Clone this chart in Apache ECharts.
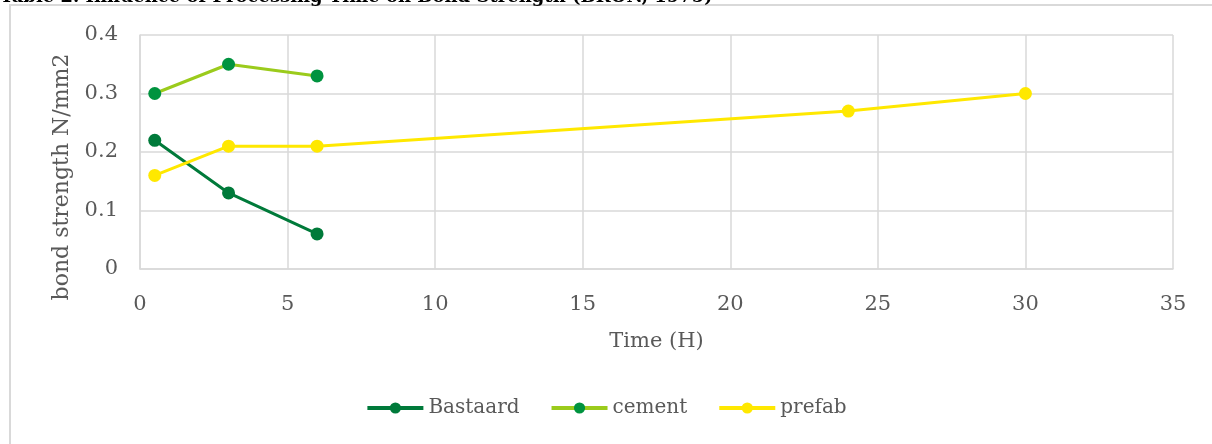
<!DOCTYPE html>
<html>
<head>
<meta charset="utf-8">
<script src="https://cdn.jsdelivr.net/npm/echarts@6/dist/echarts.min.js"></script>
<style>
  html, body { margin: 0; padding: 0; background: #fff; }
  #chart { width: 1212px; height: 444px; }
</style>
</head>
<body>
<div id="chart"></div>
<script>
// Processing time (hours) against bond strength for three mortar types
const bastaardTime = [0.5, 3, 6];
const bastaardStrength = [0.22, 0.13, 0.06];
const cementTime = [0.5, 3, 6];
const cementStrength = [0.30, 0.35, 0.33];
const prefabTime = [0.5, 3, 6, 24, 30];
const prefabStrength = [0.16, 0.21, 0.21, 0.27, 0.30];

const titleText = 'Table 2. Influence of Processing Time on Bond Strength (BRON, 1975)';
const xAxisName = 'Time (H)';
const yAxisName = 'bond strength N/mm2';

const pairs = (xs, ys) => xs.map((x, i) => [x, ys[i]]);
const serif = '"DejaVu Serif", "Liberation Serif", serif';
const textColor = '#595959';
const gridColor = '#d9d9d9';

const chart = echarts.init(document.getElementById('chart'), null, { renderer: 'canvas' });

function lineSeries(name, data, lineColor, markerColor) {
  return {
    name: name,
    type: 'line',
    data: data,
    symbol: 'circle',
    symbolSize: 13,
    lineStyle: { color: lineColor, width: 3 },
    itemStyle: { color: markerColor },
    emphasis: { disabled: true },
    animation: false
  };
}

chart.setOption({
  animation: false,
  graphic: [
    {
      type: 'rect',
      shape: { x: 10, y: 5, width: 1300, height: 600 },
      style: { fill: 'none', stroke: gridColor, lineWidth: 2 },
      silent: true
    },
    {
      type: 'text',
      left: 0,
      top: -12,
      style: {
        text: titleText,
        font: 'bold 18px ' + serif,
        fill: '#000'
      },
      silent: true
    },
    {
      // vertical axis title, sitting slightly below the plot's centre
      type: 'text',
      x: 62,
      y: 177,
      rotation: Math.PI / 2,
      style: {
        text: yAxisName,
        font: '22px ' + serif,
        fill: textColor,
        align: 'center',
        verticalAlign: 'middle'
      },
      silent: true
    }
  ],
  grid: { left: 140, right: 39, top: 35, bottom: 175 },
  legend: {
    bottom: 21,
    left: 'center',
    itemWidth: 56,
    itemHeight: 14,
    itemGap: 30,
    lineStyle: { width: 4 },
    textStyle: { fontFamily: serif, fontSize: 20, color: textColor },
    data: ['Bastaard', 'cement', 'prefab']
  },
  xAxis: {
    type: 'value',
    min: 0,
    max: 35,
    interval: 5,
    name: xAxisName,
    nameLocation: 'middle',
    nameGap: 62,
    nameTextStyle: { fontFamily: serif, fontSize: 21, color: textColor },
    axisLine: { show: true, lineStyle: { color: gridColor, width: 1.5 } },
    axisTick: { show: false },
    axisLabel: { fontFamily: serif, fontSize: 21, color: textColor, margin: 25 },
    splitLine: { show: true, lineStyle: { color: gridColor, width: 1.5 } }
  },
  yAxis: {
    type: 'value',
    min: 0,
    max: 0.4,
    interval: 0.1,
    axisLine: { show: true, lineStyle: { color: gridColor, width: 1.5 } },
    axisTick: { show: false },
    axisLabel: { fontFamily: serif, fontSize: 21, color: textColor, margin: 22 },
    splitLine: { show: true, lineStyle: { color: gridColor, width: 1.5 } }
  },
  series: [
    lineSeries('Bastaard', pairs(bastaardTime, bastaardStrength), '#007a3a', '#007a3a'),
    lineSeries('cement', pairs(cementTime, cementStrength), '#9bcb1c', '#00933f'),
    lineSeries('prefab', pairs(prefabTime, prefabStrength), '#ffe800', '#ffe800')
  ]
});
</script>
</body>
</html>
